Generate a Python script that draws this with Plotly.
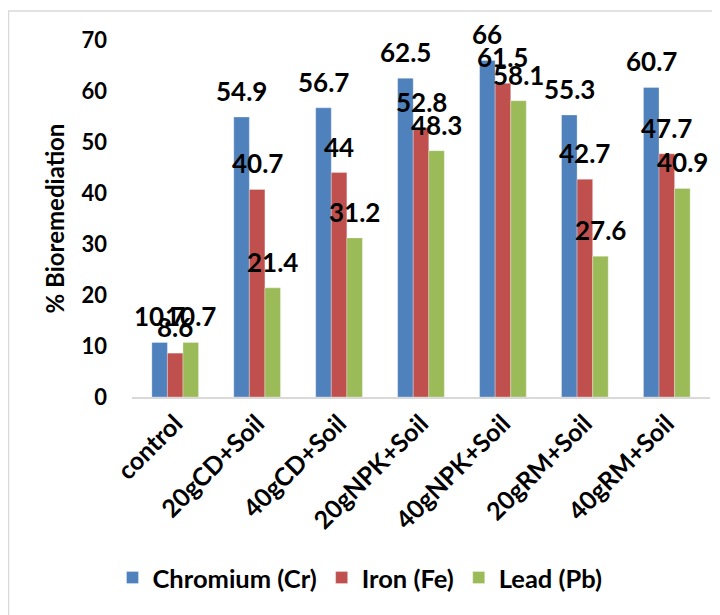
import plotly.graph_objects as go

categories = ["control", "20gCD+Soil", "40gCD+Soil", "20gNPK+Soil", "40gNPK+Soil", "20gRM+Soil", "40gRM+Soil"]
chromium = [10.7, 54.9, 56.7, 62.5, 66, 55.3, 60.7]
iron = [8.6, 40.7, 44, 52.8, 61.5, 42.7, 47.7]
lead = [10.7, 21.4, 31.2, 48.3, 58.1, 27.6, 40.9]
series_names = ["Chromium (Cr)", "Iron (Fe)", "Lead (Pb)"]
series_colors = ["#4F81BD", "#C0504D", "#9BBB59"]
y_ticks = [0, 10, 20, 30, 40, 50, 60, 70]

FONT = "Lato"
W, H = 720, 615
# page is offset by the 8px body margin
ML, MR, MT, MB = 124, 18, 32, 226
BARGAP = 0.43

fig = go.Figure()
all_series = [chromium, iron, lead]
for name, vals, col in zip(series_names, all_series, series_colors):
    fig.add_trace(go.Bar(x=categories, y=vals, name=name,
                         marker=dict(color=col, line=dict(color="rgba(255,255,255,0.5)", width=0.6))))

plot_w = W - ML - MR
bar_px = plot_w / len(categories) * (1 - BARGAP) / 3
annotations = []
for i, vals in enumerate(all_series):
    for c, v in zip(categories, vals):
        annotations.append(dict(x=c, y=v, xref="x", yref="y", text=f"{v:g}", showarrow=False,
                                xshift=(i - 1) * bar_px, yshift=26, yanchor="middle",
                                font=dict(family=FONT, size=26, color="black", weight="bold")))

plot_h = H - MT - MB
def px_x(p):
    return (p - ML) / plot_w
def px_y(p):
    return (H - MB - p) / plot_h

shapes = [
    dict(type="rect", xref="paper", yref="paper", x0=px_x(0.5), x1=px_x(740), y0=px_y(640), y1=px_y(3),
         line=dict(color="#d9d9d9", width=1.5), layer="below"),
]

fig.update_layout(
    width=W, height=H,
    margin=dict(l=ML, r=MR, t=MT, b=MB),
    paper_bgcolor="white", plot_bgcolor="white",
    barmode="group", bargap=BARGAP, bargroupgap=0,
    font=dict(family=FONT, color="black"),
    xaxis=dict(showline=True, linecolor="#d9d9d9", linewidth=2, ticks="", tickangle=-45,
               tickfont=dict(family=FONT, size=25, color="black", weight="bold"), showgrid=False),
    yaxis=dict(range=[0, 70], tickvals=y_ticks, showgrid=False, zeroline=False, showline=False, ticks="",
               ticklabelstandoff=24,
               tickfont=dict(family=FONT, size=22, color="black", weight="bold"),
               title=dict(text="% Bioremediation", standoff=10,
                          font=dict(family=FONT, size=24, color="black", weight="bold"))),
    legend=dict(orientation="h", x=px_x(352), xanchor="center", y=px_y(570), yanchor="middle",
                font=dict(family=FONT, size=25.5, color="black", weight="bold")),
    annotations=annotations,
    shapes=shapes,
)

fig.write_html("out.html")
